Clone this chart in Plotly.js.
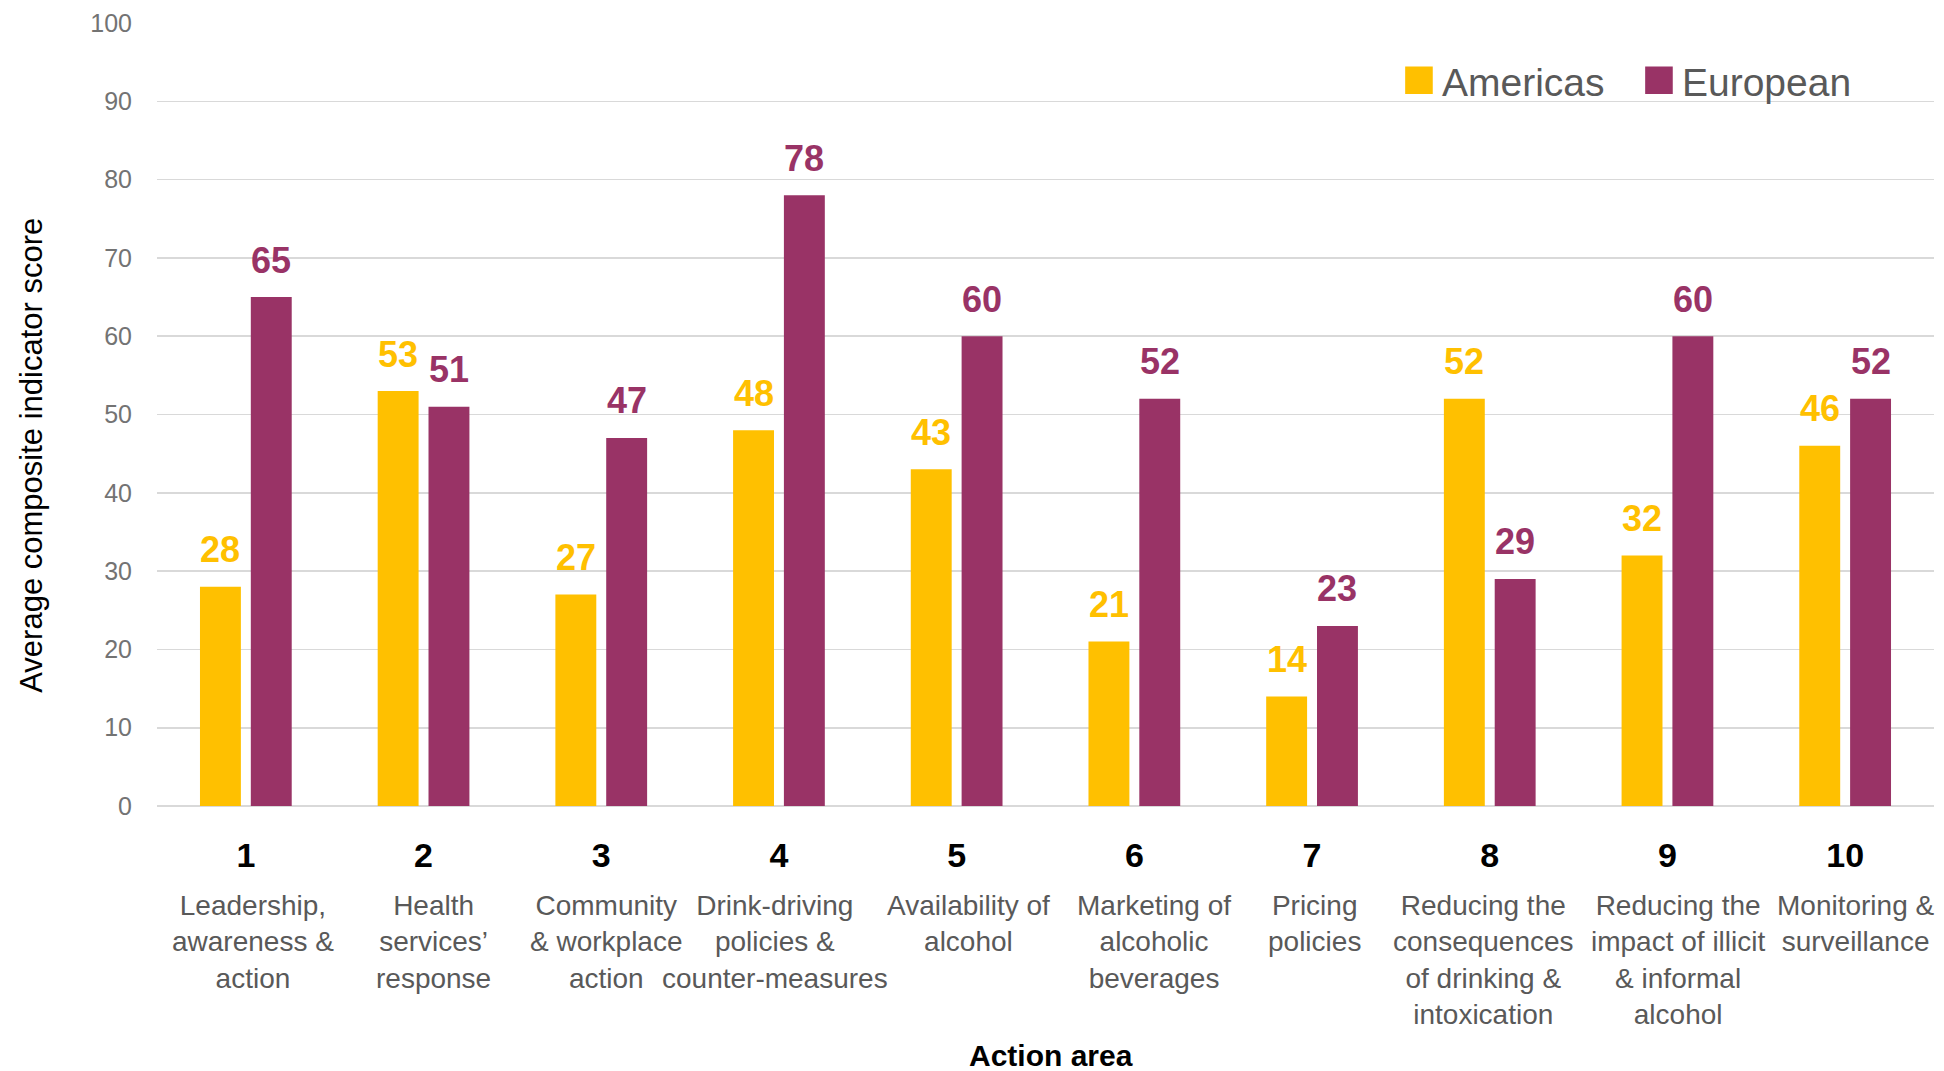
<!DOCTYPE html>
<html>
<head>
<meta charset="utf-8">
<script src="https://cdn.plot.ly/plotly-3.0.1.min.js"></script>
<style>html,body{margin:0;padding:0;background:#fff;}#chart{width:1944px;height:1071px;}</style>
</head>
<body>
<div id="chart"></div>
<script>
const categories = ["1","2","3","4","5","6","7","8","9","10"];
const descriptions = [
  "Leadership,<br>awareness &<br>action",
  "Health<br>services’<br>response",
  "Community<br>& workplace<br>action",
  "Drink-driving<br>policies &<br>counter-measures",
  "Availability of<br>alcohol",
  "Marketing of<br>alcoholic<br>beverages",
  "Pricing<br>policies",
  "Reducing the<br>consequences<br>of drinking &<br>intoxication",
  "Reducing the<br>impact of illicit<br>& informal<br>alcohol",
  "Monitoring &<br>surveillance"
];
const americas = [28, 53, 27, 48, 43, 21, 14, 52, 32, 46];
const european = [65, 51, 47, 78, 60, 52, 23, 29, 60, 52];
const seriesNames = ["Americas", "European"];
const yTitle = "Average composite indicator score";
const xTitle = "Action area";

// layout-only tweak: horizontal nudges (px) of the description labels
const descNudge = [7, 10, 5, -4, 12, 20, 2, -6, 11, 11];

const colA = "#FFC000";
const colE = "#993366";
const FONT = "Liberation Sans, Arial, sans-serif";

const traces = [
  {type: "bar", name: seriesNames[0], x: categories, y: americas, marker: {color: colA}, hoverinfo: "x+y+name"},
  {type: "bar", name: seriesNames[1], x: categories, y: european, marker: {color: colE}, hoverinfo: "x+y+name"}
];

const annotations = [];
const slotShift = 25.4;
categories.forEach((c, i) => {
  // category axis: annotation x given as the category's index
  annotations.push({x: i, y: americas[i], xref: "x", yref: "y", text: "<b>" + americas[i] + "</b>",
    showarrow: false, xshift: -slotShift, yshift: 37, yanchor: "middle",
    font: {family: FONT, size: 36, color: colA}});
  annotations.push({x: i, y: european[i], xref: "x", yref: "y", text: "<b>" + european[i] + "</b>",
    showarrow: false, xshift: slotShift, yshift: 37, yanchor: "middle",
    font: {family: FONT, size: 36, color: colE}});
  annotations.push({x: i, y: -0.105, xref: "x", yref: "paper", text: descriptions[i],
    showarrow: false, yanchor: "top", xanchor: "center", align: "center", xshift: descNudge[i],
    font: {family: FONT, size: 28, color: "#595959"}});
});
annotations.push({x: -0.0706, y: 0.448, xref: "paper", yref: "paper", text: yTitle, textangle: -90,
  showarrow: false, xanchor: "center", yanchor: "middle", font: {family: FONT, size: 31, color: "#000"}});
annotations.push({x: 0.503, y: -0.319, xref: "paper", yref: "paper", text: "<b>" + xTitle + "</b>",
  showarrow: false, xanchor: "center", yanchor: "middle", font: {family: FONT, size: 30, color: "#000"}});

const layout = {
  width: 1944, height: 1071,
  margin: {l: 157, r: 10, t: 23, b: 265},
  paper_bgcolor: "#fff", plot_bgcolor: "#fff",
  font: {family: FONT},
  barmode: "group",
  bargap: 0.428,
  bargroupgap: 0.195,
  showlegend: true,
  legend: {orientation: "h", x: 0.7006, y: 0.9675, xanchor: "left", yanchor: "top",
    font: {family: FONT, size: 39, color: "#595959"}, bgcolor: "rgba(0,0,0,0)", itemwidth: 30,
    entrywidth: 195, entrywidthmode: "pixels", traceorder: "normal"},
  xaxis: {type: "category", range: [-0.5, 9.5], tickvals: categories, ticktext: categories.map(c => "<b>" + c + "</b>"),
    tickfont: {family: FONT, size: 34, color: "#000"}, ticks: "", showgrid: false, showline: false,
    zeroline: false, ticklabelstandoff: 26, fixedrange: true},
  yaxis: {range: [0, 100], tickvals: [0,10,20,30,40,50,60,70,80,90,100], showgrid: true, gridcolor: "#d9d9d9", gridwidth: 1.6,
    zeroline: true, zerolinecolor: "#d9d9d9", zerolinewidth: 2.4, showline: false, ticks: "",
    tickfont: {family: FONT, size: 25, color: "#737373"}, ticklabelstandoff: 24, fixedrange: true},
  annotations: annotations
};

Plotly.newPlot("chart", traces, layout, {displayModeBar: false, staticPlot: true}).then(gd => {
  gd.querySelectorAll(".legendpoints path").forEach(p => {
    const t = p.getAttribute("transform") || "";
    p.setAttribute("transform", t + " translate(-3,0) scale(2.3)");
  });
});
</script>
</body>
</html>
